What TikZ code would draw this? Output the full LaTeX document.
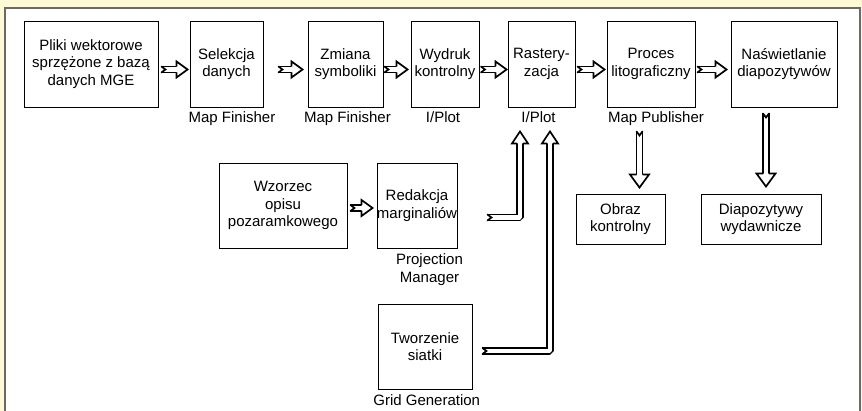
\documentclass[tikz,border=0pt]{standalone}
\usepackage{fontspec}
\setmainfont{Liberation Sans}
\usetikzlibrary{arrows.meta,calc}

\definecolor{paper}{RGB}{255,249,214}
\definecolor{frame}{RGB}{105,105,105}

% distance from the axis of a hollow arrow to the centre of each rail
\def\railhalf{3.0pt}
% stroke width of the rails and of the arrow ends
\def\railwidth{1.7pt}

% open head for the hollow (double-rail) arrows
\pgfdeclarearrow{
  name = HollowHead,
  parameters = {\the\pgfarrowlength,\the\pgfarrowwidth},
  setup code = {
    \pgfarrowssettipend{0pt}
    \pgfarrowssetlineend{-\pgfarrowlength}
    \pgfarrowssetbackend{-\pgfarrowlength}
    \pgfarrowshullpoint{0pt}{0pt}
    \pgfarrowsupperhullpoint{-\pgfarrowlength}{.5\pgfarrowwidth}
    \pgfarrowssavethe\pgfarrowlength
    \pgfarrowssavethe\pgfarrowwidth
  },
  drawing code = {
    \pgfsetdash{}{0pt}
    \pgfsetinnerlinewidth{0pt}
    \pgfsetlinewidth{\railwidth}
    \pgfsetmiterjoin
    \pgfsetfillcolor{white}
    \pgfpathmoveto{\pgfqpoint{0pt}{0pt}}
    \pgfpathlineto{\pgfqpoint{-\pgfarrowlength}{.5\pgfarrowwidth}}
    \pgfpathlineto{\pgfqpoint{-\pgfarrowlength}{-.5\pgfarrowwidth}}
    \pgfpathclose
    \pgfusepathqfill
    \pgfpathmoveto{\pgfqpoint{-\pgfarrowlength}{\railhalf}}
    \pgfpathlineto{\pgfqpoint{-\pgfarrowlength}{.5\pgfarrowwidth}}
    \pgfpathlineto{\pgfqpoint{0pt}{0pt}}
    \pgfpathlineto{\pgfqpoint{-\pgfarrowlength}{-.5\pgfarrowwidth}}
    \pgfpathlineto{\pgfqpoint{-\pgfarrowlength}{-\railhalf}}
    \pgfusepathqstroke
  },
  defaults = {length = 11pt, width = 16pt}
}

% notched tail closing the two rails
\pgfdeclarearrow{
  name = NotchTail,
  parameters = {\the\pgfarrowlength},
  setup code = {
    \pgfarrowssettipend{0pt}
    \pgfarrowssetlineend{0pt}
    \pgfarrowssetbackend{-\pgfarrowlength}
    \pgfarrowshullpoint{0pt}{\railhalf}
    \pgfarrowshullpoint{0pt}{-\railhalf}
    \pgfarrowshullpoint{-\pgfarrowlength}{0pt}
    \pgfarrowssavethe\pgfarrowlength
  },
  drawing code = {
    \pgfsetdash{}{0pt}
    \pgfsetinnerlinewidth{0pt}
    \pgfsetlinewidth{\railwidth}
    \pgfsetmiterjoin
    \pgfsetroundcap
    \pgfpathmoveto{\pgfqpoint{0pt}{\railhalf}}
    \pgfpathlineto{\pgfqpoint{-\pgfarrowlength}{0pt}}
    \pgfpathlineto{\pgfqpoint{0pt}{-\railhalf}}
    \pgfusepathqstroke
  },
  defaults = {length = 4pt}
}

\newcommand{\diagfont}{\fontsize{15}{17.5}\selectfont}

\tikzset{
  box/.style={draw=black, line width=0.9pt, inner sep=0pt, align=center,
    font=\diagfont, text=black},
  tag/.style={inner sep=0pt, anchor=base, font=\diagfont, text=black},
  hollow/.style={draw=black, line width=\railwidth, double=white,
    double distance=4.3pt, line join=miter,
    arrows={NotchTail-HollowHead[length=11pt, width=16pt]}},
  hollowdown/.style={hollow,
    arrows={NotchTail-HollowHead[length=13pt, width=19pt]}},
  hollowup/.style={hollow, line join=bevel,
    arrows={NotchTail-HollowHead[length=12pt, width=16pt]}}
}

\begin{document}
\begin{tikzpicture}[x=1pt, y=-1pt]
  \useasboundingbox (0,0) rectangle (862,411);

  % page and panel
  \fill[paper] (0,0) rectangle (862,411);
  \fill[white] (5,8) rectangle (860,411);
  \draw[frame, line width=1.6pt] (5,411) -- (5,8) -- (860,8) -- (860,411);

  % main processing chain
  \node[box, minimum width=134pt, minimum height=86pt] (pliki) at (91,64)
    {Pliki wektorowe\\sprzężone z bazą\\danych MGE};
  \node[box, minimum width=73pt, minimum height=86pt] (sel) at (226.5,64)
    {Selekcja\\danych};
  \node[box, minimum width=75pt, minimum height=86pt] (zm) at (345.5,64)
    {Zmiana\\symboliki};
  \node[box, minimum width=68pt, minimum height=86pt] (wyd) at (445,64)
    {Wydruk\\kontrolny};
  \node[box, minimum width=67pt, minimum height=86pt] (ras) at (541.5,64)
    {Rastery-\\zacja};
  \node[box, minimum width=88pt, minimum height=86pt] (pro) at (651,64)
    {Proces\\litograficzny};
  \node[box, minimum width=106pt, minimum height=86pt] (nas) at (784,64)
    {Naświetlanie\\diapozytywów};

  % side inputs
  \node[box, minimum width=128pt, minimum height=85pt] (wz) at (283,205.5)
    {Wzorzec\\opisu\\pozaramkowego};
  \node[box, minimum width=72pt, minimum height=85pt] (red) at (417,205.5)
    {Redakcja\\marginaliów};
  \node[box, minimum width=94pt, minimum height=85pt] (tw) at (425,346.5)
    {Tworzenie\\siatki};

  % outputs
  \node[box, minimum width=89pt, minimum height=50pt] (obr) at (620.5,219)
    {Obraz\\kontrolny};
  \node[box, minimum width=120pt, minimum height=50pt] (dia) at (761,219)
    {Diapozytywy\\wydawnicze};

  % software used at each step
  \node[tag] (lsel) at (232,122.5) {Map Finisher};
  \node[tag] (lzm) at (347.5,122.5) {Map Finisher};
  \node[tag] (lwyd) at (443,122.5) {I/Plot};
  \node[tag] (lras) at (538.5,122.5) {I/Plot};
  \node[tag] (lpro) at (656,122.5) {Map Publisher};
  \node[tag, anchor=north, align=center, font=\fontsize{15}{18.5}\selectfont]
    (lred) at (429.5,253) {Projection\\Manager};
  \node[tag] (ltw) at (426.7,406) {Grid Generation};

  % flow along the chain
  \draw[hollow] ($(pliki.east)+(3,5.5)$) -- ($(sel.west)+(-2,5.5)$);
  \draw[hollow] ($(sel.east)+(15,5.5)$) -- ($(zm.west)+(-5,5.5)$);
  \draw[hollow] ($(zm.east)+(1,5.5)$) -- ($(wyd.west)+(-3,5.5)$);
  \draw[hollow] ($(wyd.east)+(1.5,5.5)$) -- ($(ras.west)+(-1,5.5)$);
  \draw[hollow] ($(ras.east)+(2,5.5)$) -- ($(pro.west)+(-2,5.5)$);
  \draw[hollow] ($(pro.east)+(2,5.5)$) -- ($(nas.west)+(-4,5.5)$);
  \draw[hollow] ($(wz.east)+(3,2.5)$) -- ($(red.west)+(-4,2.5)$);

  % side inputs joining the rasterisation step
  \draw[hollowup] ($(red.east)+(30,12)$) -| ($(ras.south)+(-21.5,24)$);
  \draw[hollowup] ($(tw.east)+(10,4.5)$) -| ($(ras.south)+(8.5,24)$);

  % outputs
  \draw[hollowdown] ($(pro.south)+(-11.5,24)$) -- ($(obr.north)+(19,-6)$);
  \draw[hollowdown] ($(nas.south)+(-18,6)$) -- ($(dia.north)+(5,-7)$);
\end{tikzpicture}
\end{document}
